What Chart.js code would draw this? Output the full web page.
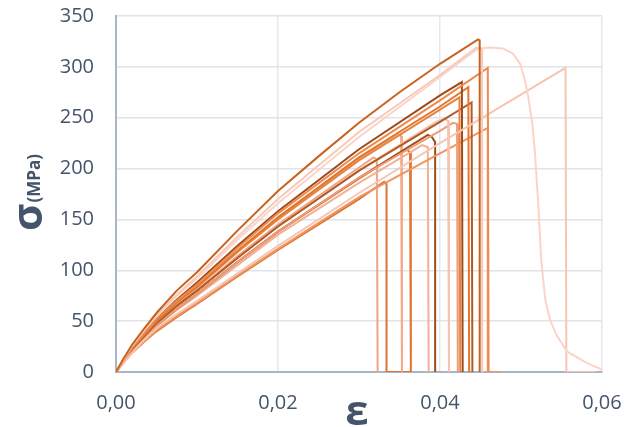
<!DOCTYPE html>
<html lang="en">
<head>
  <meta charset="UTF-8">
  <title>Stress-strain curves</title>
  <script src="https://cdn.jsdelivr.net/npm/chart.js"></script>
  <style>
    body {
      margin: 0;
      background: #ffffff;
    }

    #chart-container {
      width: 624px;
      height: 427px;
    }
  </style>
</head>
<body>

<div id="chart-container">
  <canvas id="chart"></canvas>
</div>

<script>
  // Tick values of the axes
  const strainTicks = [0, 0.02, 0.04, 0.06];
  const stressTicks = [0, 50, 100, 150, 200, 250, 300, 350];

  // Each specimen: [strain, stress in MPa]
  const specimen1 = [[0, 0], [0.001, 14], [0.002, 27], [0.0035, 43], [0.005, 58], [0.0075, 80], [0.01, 98], [0.015, 139], [0.02, 178], [0.025, 212], [0.03, 245], [0.035, 275], [0.04, 303], [0.0447, 327], [0.0449, 326], [0.0449, 0]];
  const specimen2 = [[0, 0], [0.001, 14], [0.002, 26], [0.0035, 42], [0.005, 56], [0.0075, 76], [0.01, 94], [0.015, 133], [0.02, 170], [0.03, 236], [0.04, 292], [0.0445, 319], [0.0452, 317], [0.0452, 0]];
  const specimen3 = [[0, 0], [0.001, 13], [0.002, 26], [0.0035, 41], [0.005, 55], [0.0075, 75], [0.01, 92], [0.015, 130], [0.02, 166], [0.03, 231], [0.04, 290], [0.0447, 318], [0.0462, 319], [0.0478, 318],
    [0.049, 313], [0.0499, 303], [0.0505, 286], [0.0509, 270], [0.0514, 244], [0.0517, 218], [0.0521, 169], [0.0525, 110], [0.053, 71],
    [0.0536, 51], [0.0544, 36], [0.0557, 20], [0.0581, 9], [0.0601, 2]];
  const specimen4 = [[0, 0], [0.001, 12], [0.002, 24], [0.0035, 38], [0.005, 52], [0.0075, 70], [0.01, 86], [0.015, 122], [0.02, 156], [0.03, 215], [0.04, 267], [0.0459, 299], [0.046, 0]];
  const specimen5 = [[0, 0], [0.001, 10], [0.002, 19], [0.0035, 32], [0.005, 43], [0.0075, 57], [0.01, 70], [0.015, 97], [0.02, 124], [0.03, 176], [0.04, 225], [0.0555, 299], [0.0556, 0], [0.0592, 0]];
  const specimen6 = [[0, 0], [0.001, 13], [0.002, 24], [0.0035, 39], [0.005, 52], [0.0075, 71], [0.01, 88], [0.015, 124], [0.02, 158], [0.03, 219], [0.04, 272], [0.0427, 285], [0.0428, 0]];
  const specimen7 = [[0, 0], [0.001, 12], [0.002, 23], [0.0035, 37], [0.005, 50], [0.0075, 69], [0.01, 84], [0.015, 119], [0.02, 152], [0.03, 211], [0.04, 261], [0.0435, 280], [0.0436, 0]];
  const specimen8 = [[0, 0], [0.001, 12], [0.002, 23], [0.0035, 37], [0.005, 50], [0.0075, 68], [0.01, 83], [0.015, 118], [0.02, 150], [0.03, 208], [0.04, 258], [0.0424, 270], [0.0425, 0]];
  const specimen9 = [[0, 0], [0.001, 11], [0.002, 22], [0.0035, 35], [0.005, 48], [0.0075, 65], [0.01, 80], [0.015, 112], [0.02, 143], [0.03, 198], [0.04, 246], [0.0439, 265], [0.044, 0]];
  const specimen10 = [[0, 0], [0.001, 11], [0.002, 22], [0.0035, 35], [0.005, 48], [0.0075, 65], [0.01, 80], [0.015, 112], [0.02, 143], [0.03, 198], [0.0395, 246], [0.0405, 249], [0.041, 247], [0.0411, 0]];
  const specimen11 = [[0, 0], [0.001, 11], [0.002, 21], [0.0035, 34], [0.005, 46], [0.0075, 62], [0.01, 77], [0.015, 108], [0.02, 138], [0.03, 191], [0.04, 237], [0.0416, 245], [0.0421, 244], [0.0422, 0]];
  const specimen12 = [[0, 0], [0.001, 10], [0.002, 19], [0.0035, 30], [0.005, 41], [0.0075, 55], [0.01, 68], [0.015, 95], [0.02, 121], [0.03, 172], [0.04, 215], [0.0459, 240], [0.0459, 0], [0.0475, 0]];
  const specimen13 = [[0, 0], [0.001, 11], [0.002, 21], [0.0035, 34], [0.005, 46], [0.0075, 62], [0.01, 77], [0.015, 108], [0.02, 138], [0.03, 191], [0.0385, 233], [0.039, 231], [0.0394, 226], [0.0394, 0]];
  const specimen14 = [[0, 0], [0.001, 11], [0.002, 21], [0.0035, 33], [0.005, 45], [0.0075, 61], [0.01, 75], [0.015, 105], [0.02, 135], [0.03, 186], [0.0378, 223], [0.0385, 221], [0.0386, 0]];
  const specimen15 = [[0, 0], [0.001, 12], [0.002, 23], [0.0035, 37], [0.005, 50], [0.0075, 69], [0.01, 84], [0.015, 119], [0.02, 152], [0.03, 209], [0.0347, 234], [0.0352, 232], [0.0353, 0]];
  const specimen16 = [[0, 0], [0.001, 11], [0.002, 21], [0.0035, 34], [0.005, 46], [0.0075, 62], [0.01, 77], [0.015, 108], [0.02, 138], [0.03, 190], [0.0358, 219], [0.0363, 216], [0.0364, 0]];
  const specimen17 = [[0, 0], [0.001, 12], [0.002, 22], [0.0035, 36], [0.005, 48], [0.0075, 66], [0.01, 80], [0.015, 114], [0.02, 145], [0.03, 201], [0.0318, 211], [0.0322, 209], [0.0323, 0]];
  const specimen18 = [[0, 0], [0.001, 10], [0.002, 19], [0.0035, 30], [0.005, 40], [0.0075, 54], [0.01, 67], [0.015, 94], [0.02, 120], [0.03, 170], [0.0331, 187], [0.0334, 185], [0.0334, 0], [0.0364, 0]];

  const specimens = [specimen1, specimen2, specimen3, specimen4, specimen5, specimen6, specimen7, specimen8, specimen9,
    specimen10, specimen11, specimen12, specimen13, specimen14, specimen15, specimen16, specimen17, specimen18];

  const lineColors = ['#c8621f', '#f8c9b7', '#fad5c7', '#ee8a4e', '#f7c6b3', '#9e4a1a', '#e3772f', '#e8843f', '#b35a24',
    '#f6c2ad', '#ee9e78', '#f0955f', '#a14d1d', '#f4b093', '#f3a985', '#df7430', '#f1a482', '#dc7431'];

  const textColor = '#44546a';

  // draws the two axis titles (big sigma with (MPa), and epsilon)
  const axisTitles = {
    id: 'axisTitles',
    afterDraw(chart) {
      const ctx = chart.ctx;
      ctx.save();
      ctx.fillStyle = textColor;
      ctx.textBaseline = 'alphabetic';
      ctx.textAlign = 'left';

      // y title, rotated
      ctx.translate(42, 231);
      ctx.rotate(-Math.PI / 2);
      ctx.font = 'bold 42px "Open Sans"';
      ctx.fillText('σ', 0, 0);
      const w = ctx.measureText('σ').width;
      ctx.font = 'bold 17px "Open Sans"';
      ctx.fillText('(MPa)', w + 1, -2);
      ctx.restore();

      // x title
      ctx.save();
      ctx.fillStyle = textColor;
      ctx.font = 'bold 42px "Open Sans"';
      ctx.textAlign = 'center';
      ctx.textBaseline = 'alphabetic';
      ctx.fillText('ε', 357, 425);
      ctx.restore();
    }
  };

  const ctx = document.getElementById('chart').getContext('2d');
  const chart = new Chart(ctx, {
    type: 'scatter',
    data: {
      datasets: specimens.map((pts, i) => ({
        data: pts.map(p => ({ x: p[0], y: p[1] })),
        showLine: true,
        borderColor: lineColors[i],
        borderWidth: 2,
        pointRadius: 0,
        tension: 0,
        fill: false
      }))
    },
    options: {
      responsive: true,
      maintainAspectRatio: false,
      animation: false,
      layout: {
        padding: { top: 16, right: 22, bottom: 0, left: 0 }
      },
      plugins: {
        legend: { display: false },
        tooltip: { enabled: false }
      },
      scales: {
        x: {
          type: 'linear',
          min: strainTicks[0],
          max: strainTicks[strainTicks.length - 1],
          afterBuildTicks: scale => { scale.ticks = strainTicks.map(v => ({ value: v })); },
          afterFit: scale => {
            scale.height = 55;
            scale.paddingLeft = 0;
            scale.paddingRight = 0;
          },
          grid: { color: '#e3e7ee', lineWidth: 1.5, drawTicks: false },
          border: { color: '#a9b4c6', width: 2 },
          ticks: {
            padding: 19,
            color: textColor,
            font: { family: 'Open Sans', size: 20 },
            callback: v => v.toFixed(2).replace('.', ',')
          }
        },
        y: {
          min: stressTicks[0],
          max: stressTicks[stressTicks.length - 1],
          afterBuildTicks: scale => { scale.ticks = stressTicks.map(v => ({ value: v })); },
          afterFit: scale => {
            scale.width = 116;
            scale.paddingTop = 0;
            scale.paddingBottom = 0;
          },
          grid: { color: '#dfe3ea', lineWidth: 1.5, drawTicks: false },
          border: { color: '#a9b4c6', width: 2 },
          ticks: {
            padding: 22,
            color: textColor,
            font: { family: 'Open Sans', size: 20 }
          }
        }
      }
    },
    plugins: [axisTitles]
  });
</script>

</body>
</html>
